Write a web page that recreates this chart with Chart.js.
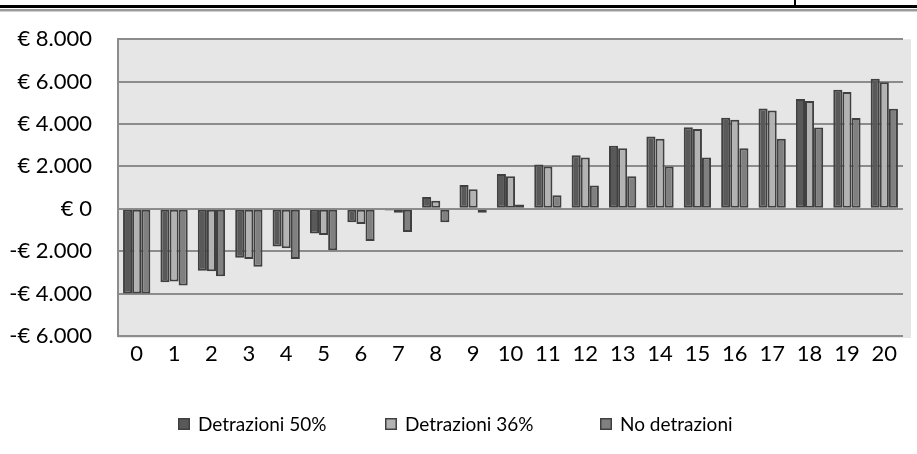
<!DOCTYPE html>
<html>
<head>
<meta charset="utf-8">
<script src="https://cdn.jsdelivr.net/npm/chart.js@4/dist/chart.umd.min.js"></script>
<style>
  html, body { margin: 0; padding: 0; background: #ffffff; }
  #wrap { width: 917px; height: 454px; position: relative; }
</style>
</head>
<body>
<div id="wrap"><canvas id="c" width="917" height="454"></canvas></div>
<script>
// Anni dell'investimento
const anni = ['0','1','2','3','4','5','6','7','8','9','10','11','12','13','14','15','16','17','18','19','20'];

// Flusso di cassa cumulato (€) per scenario
const detrazioni50 = [-4000,-3460,-2920,-2310,-1780,-1160,-640,-80,560,1120,1640,2090,2530,2970,3410,3850,4300,4730,5180,5620,6140];
const detrazioni36 = [-4000,-3430,-2940,-2370,-1860,-1240,-720,-190,380,920,1530,1990,2420,2860,3300,3760,4200,4640,5090,5510,5970];
const noDetrazioni = [-4000,-3620,-3180,-2730,-2370,-1950,-1520,-1100,-640,-190,200,640,1100,1530,2000,2420,2860,3310,3830,4280,4720];

const nomiSerie = ['Detrazioni 50%', 'Detrazioni 36%', 'No detrazioni'];
const tickY = [-6000, -4000, -2000, 0, 2000, 4000, 6000, 8000];

const FONT = 'Lato, "Open Sans", sans-serif';

function euro(v) {
  const s = Math.abs(v).toString().replace(/\B(?=(\d{3})+(?!\d))/g, '.');
  return (v < 0 ? '-' : '') + '€ ' + s;
}

// Sfondo grigio dell'area del grafico e filetti della tabella sopra
const sfondo = {
  id: 'sfondo',
  beforeDraw(chart) {
    const { ctx, chartArea: a } = chart;
    ctx.save();
    ctx.fillStyle = '#ffffff';
    ctx.fillRect(0, 0, chart.width, chart.height);
    ctx.fillStyle = '#e6e6e6';
    ctx.fillRect(a.left, a.top, a.right - a.left + 8, a.bottom - a.top + 2);
    // filetti in alto
    ctx.fillStyle = '#000000';
    ctx.fillRect(0, 5, chart.width, 3);
    ctx.fillRect(794, 0, 2, 6);
    ctx.fillStyle = '#9a9a9a';
    ctx.fillRect(0, 9, chart.width, 2);
    ctx.fillStyle = '#cfcfcf';
    ctx.fillRect(0, 11, chart.width, 1);
    ctx.restore();
  }
};

// Legenda in basso con quadratini
const legenda = {
  id: 'legenda',
  afterDraw(chart) {
    const { ctx } = chart;
    const y = 424;
    const starts = [178, 385, 600];
    ctx.save();
    ctx.font = '19px ' + FONT;
    ctx.textBaseline = 'middle';
    chart.data.datasets.forEach((ds, i) => {
      const x = starts[i];
      ctx.fillStyle = ds.backgroundColor;
      ctx.fillRect(x, y - 6, 12, 12);
      ctx.strokeStyle = '#404040';
      ctx.lineWidth = 1.5;
      ctx.strokeRect(x + 0.75, y - 5.25, 10.5, 10.5);
      ctx.fillStyle = '#000000';
      ctx.fillText(ds.label, x + 20, y + 1);
    });
    ctx.restore();
  }
};

const colori = ['#595959', '#b3b3b3', '#808080'];
const valori = [detrazioni50, detrazioni36, noDetrazioni];

new Chart(document.getElementById('c'), {
  type: 'bar',
  data: {
    labels: anni,
    datasets: valori.map((d, i) => ({
      label: nomiSerie[i],
      data: d,
      backgroundColor: colori[i],
      borderColor: '#404040',
      borderWidth: 2,
      borderSkipped: false,
      categoryPercentage: 0.73,
      barPercentage: 1.0
    }))
  },
  options: {
    responsive: false,
    animation: false,
    devicePixelRatio: 1,
    layout: { padding: { top: 37, right: 14, bottom: 0, left: 0 } },
    plugins: {
      legend: { display: false },
      tooltip: { enabled: false }
    },
    scales: {
      x: {
        grid: { display: false, drawTicks: false },
        border: { display: false },
        ticks: { color: '#000000', font: { family: FONT, size: 22 }, padding: 5, maxRotation: 0, autoSkip: false },
        afterFit(s) { s.height = 118; }
      },
      y: {
        min: -6000,
        max: 8000,
        afterBuildTicks(s) { s.ticks = tickY.map(v => ({ value: v })); },
        grid: { color: '#8c8c8c', lineWidth: 2, drawTicks: false },
        border: { display: true, color: '#8c8c8c', width: 2 },
        ticks: {
          color: '#000000',
          font: { family: FONT, size: 22 },
          padding: 26,
          callback: v => euro(v)
        },
        afterFit(s) { s.width = 118; }
      }
    }
  },
  plugins: [sfondo, legenda]
});
</script>
</body>
</html>
